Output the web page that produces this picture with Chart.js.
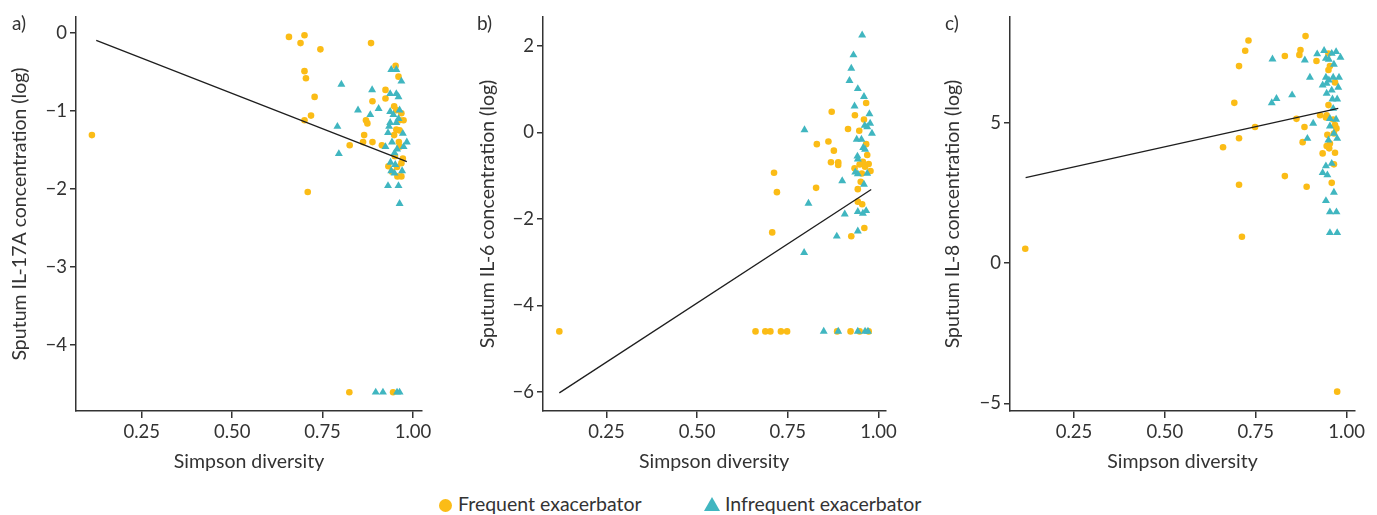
<!DOCTYPE html>
<html>
<head>
<meta charset="utf-8">
<script src="https://cdn.jsdelivr.net/npm/chart.js@4.4.1/dist/chart.umd.min.js"></script>
<style>
  body { margin: 0; background: #fff; font-family: Lato, "Noto Sans", sans-serif; color: #333; }
  #page { position: relative; width: 1377px; height: 515px; overflow: hidden; }
  .panel { position: absolute; top: 0; width: 440px; height: 480px; }
  .tag { position: absolute; top: 11px; font-size: 19px; color: #333; }
  .legend { position: absolute; top: 492px; font-size: 19.5px; color: #333; white-space: nowrap; }
  .dot { position: absolute; width: 13px; height: 13px; border-radius: 50%; background: #FBBC16; }
  .tri { position: absolute; width: 0; height: 0; border-left: 8px solid transparent; border-right: 8px solid transparent; border-bottom: 14px solid #40B6C0; }
</style>
</head>
<body>
<div id="page">
  <div class="panel" style="left:0px"><canvas id="chartA"></canvas></div>
  <div class="panel" style="left:460px"><canvas id="chartB"></canvas></div>
  <div class="panel" style="left:930px"><canvas id="chartC"></canvas></div>
  <div class="tag" style="left:12px">a)</div>
  <div class="tag" style="left:477px">b)</div>
  <div class="tag" style="left:945px">c)</div>
  <div class="dot" style="left:439px; top:499px"></div>
  <div class="legend" style="left:458px">Frequent exacerbator</div>
  <div class="tri" style="left:704px; top:497px"></div>
  <div class="legend" style="left:725px">Infrequent exacerbator</div>
</div>
<script>
// Colours
const frequentColor = '#FBBC16';
const infrequentColor = '#40B6C0';
const axisColor = '#333333';

// Shared x axis
const xTicks = [0.25, 0.5, 0.75, 1.0];
const xTickLabels = ['0.25', '0.50', '0.75', '1.00'];

// a) IL-17A
const aYTicks = [0, -1, -2, -3, -4];
const aYTickLabels = ['0', '\u22121', '\u22122', '\u22123', '\u22124'];
const aFrequent = [
  [0.112, -1.31], [0.657, -0.05], [0.700, -0.03], [0.689, -0.13], [0.744, -0.21],
  [0.700, -0.49], [0.704, -0.58], [0.728, -0.82], [0.718, -1.06], [0.700, -1.12],
  [0.709, -2.04], [0.884, -0.13], [0.825, -1.44], [0.824, -4.61], [0.865, -1.31],
  [0.870, -1.12], [0.874, -1.16], [0.862, -1.40], [0.888, -0.875], [0.888, -1.40],
  [0.924, -0.73], [0.924, -0.84], [0.914, -1.44], [0.932, -1.71], [0.945, -4.61],
  [0.952, -0.42], [0.960, -0.56], [0.948, -0.94], [0.954, -0.99], [0.963, -1.12],
  [0.974, -1.12], [0.968, -1.03], [0.954, -1.24], [0.963, -1.25], [0.948, -1.31],
  [0.961, -1.40], [0.963, -1.46], [0.972, -1.61], [0.968, -1.67], [0.956, -1.72],
  [0.957, -1.84], [0.968, -1.84], [0.950, -1.58], [0.942, -1.78]
];
const aInfrequent = [
  [0.802, -0.66], [0.791, -1.20], [0.795, -1.55], [0.848, -0.99], [0.887, -0.73],
  [0.882, -1.05], [0.905, -0.97], [0.897, -4.61], [0.917, -4.61], [0.924, -1.46],
  [0.931, -1.96], [0.940, -0.47], [0.954, -0.47], [0.968, -0.62], [0.937, -0.78],
  [0.954, -0.78], [0.960, -0.82], [0.937, -1.01], [0.963, -0.99], [0.946, -1.05],
  [0.937, -1.15], [0.954, -1.15], [0.960, -1.10], [0.934, -1.20], [0.931, -1.28],
  [0.942, -1.40], [0.972, -1.29], [0.983, -1.40], [0.974, -1.46], [0.956, -1.49],
  [0.949, -1.54], [0.938, -1.66], [0.951, -1.69], [0.940, -1.77], [0.970, -1.77],
  [0.949, -1.80], [0.960, -1.96], [0.963, -2.19], [0.956, -4.61], [0.963, -4.61]
];
const aFitLine = [[0.124, -0.094], [0.983, -1.65]];

// b) IL-6
const bYTicks = [2, 0, -2, -4, -6];
const bYTickLabels = ['2', '0', '\u22122', '\u22124', '\u22126'];
const bFrequent = [
  [0.120, -4.60], [0.661, -4.60], [0.688, -4.60], [0.702, -4.60], [0.731, -4.60],
  [0.748, -4.60], [0.886, -4.60], [0.923, -4.60], [0.948, -4.60], [0.973, -4.60],
  [0.712, -0.93], [0.720, -1.38], [0.707, -2.31], [0.871, 0.48], [0.830, -0.27],
  [0.862, -0.21], [0.877, -0.42], [0.869, -0.69], [0.889, -0.69], [0.889, -0.75],
  [0.828, -1.28], [0.916, 0.08], [0.935, 0.40], [0.947, 0.04], [0.966, 0.68],
  [0.960, 0.30], [0.966, -0.27], [0.969, -0.52], [0.934, -0.83], [0.948, -0.74],
  [0.957, -0.68], [0.963, -0.79], [0.973, -0.73], [0.978, -0.89], [0.954, -0.95],
  [0.951, -1.14], [0.943, -1.31], [0.943, -1.60], [0.955, -1.66], [0.961, -2.21],
  [0.925, -2.40]
];
const bInfrequent = [
  [0.955, 2.25], [0.931, 1.79], [0.925, 1.48], [0.920, 1.20], [0.943, 1.01],
  [0.960, 0.83], [0.934, 0.61], [0.975, 0.43], [0.977, 0.21], [0.962, 0.16],
  [0.969, 0.13], [0.982, -0.02], [0.796, 0.06], [0.940, -0.16], [0.953, -0.16],
  [0.958, -0.35], [0.963, -0.39], [0.942, -0.55], [0.943, -0.62], [0.936, -0.92],
  [0.943, -0.96], [0.969, -0.95], [0.900, -1.12], [0.960, -1.20], [0.807, -1.64],
  [0.907, -1.89], [0.943, -1.83], [0.957, -1.87], [0.966, -1.81], [0.943, -2.28],
  [0.885, -2.40], [0.795, -2.78], [0.849, -4.60], [0.889, -4.60], [0.943, -4.60],
  [0.963, -4.60], [0.971, -4.60]
];
const bFitLine = [[0.120, -6.02], [0.980, -1.32]];

// c) IL-8
const cYTicks = [5, 0, -5];
const cYTickLabels = ['5', '0', '\u22125'];
const cFrequent = [
  [0.116, 0.51], [0.712, 0.94], [0.704, 2.79], [0.704, 4.45], [0.660, 4.13],
  [0.691, 5.71], [0.704, 7.02], [0.721, 7.57], [0.730, 7.93], [0.748, 4.85],
  [0.830, 7.38], [0.830, 3.10], [0.862, 5.14], [0.870, 7.42], [0.873, 7.59],
  [0.887, 8.09], [0.884, 4.85], [0.879, 4.31], [0.890, 2.72], [0.917, 7.20],
  [0.927, 5.27], [0.945, 5.27], [0.943, 5.19], [0.950, 5.63], [0.950, 6.88],
  [0.954, 7.02], [0.968, 6.44], [0.963, 5.12], [0.968, 4.92], [0.972, 4.80],
  [0.965, 4.62], [0.947, 4.57], [0.954, 4.26], [0.945, 4.17], [0.952, 4.09],
  [0.934, 3.91], [0.968, 3.93], [0.965, 3.52], [0.959, 2.86], [0.974, -4.58],
  [0.950, 7.47]
];
const cInfrequent = [
  [0.796, 7.27], [0.794, 5.71], [0.807, 5.86], [0.850, 5.99], [0.885, 7.23],
  [0.899, 6.62], [0.908, 4.98], [0.892, 4.44], [0.919, 7.45], [0.938, 7.57],
  [0.943, 7.29], [0.951, 7.26], [0.959, 7.47], [0.971, 7.53], [0.965, 7.08],
  [0.983, 7.33], [0.943, 6.62], [0.951, 6.52], [0.963, 6.62], [0.979, 6.62],
  [0.934, 6.34], [0.945, 6.40], [0.959, 6.16], [0.977, 6.26], [0.945, 6.05],
  [0.961, 5.84], [0.974, 5.84], [0.963, 5.51], [0.954, 5.15], [0.971, 5.12],
  [0.954, 4.88], [0.965, 4.62], [0.950, 4.38], [0.974, 4.44], [0.959, 3.55],
  [0.943, 3.46], [0.934, 3.22], [0.947, 3.14], [0.965, 2.52], [0.943, 2.22],
  [0.954, 1.82], [0.972, 1.82], [0.954, 1.08], [0.974, 1.08]
];
const cFitLine = [[0.117, 3.05], [0.977, 5.51]];

const toPoints = pairs => pairs.map(p => ({ x: p[0], y: p[1] }));

function makePanel(canvasId, cfg) {
    const ctx = document.getElementById(canvasId).getContext('2d');
    return new Chart(ctx, {
        type: 'scatter',
        data: {
            datasets: [
                {
                    label: 'Fit',
                    type: 'line',
                    data: toPoints(cfg.fit),
                    borderColor: '#1e1e1e',
                    borderWidth: 1.3,
                    pointRadius: 0,
                    fill: false,
                    order: 0
                },
                {
                    label: 'Infrequent exacerbator',
                    data: toPoints(cfg.infrequent),
                    pointStyle: 'triangle',
                    pointRadius: 4.6,
                    backgroundColor: infrequentColor,
                    borderWidth: 0,
                    order: 1
                },
                {
                    label: 'Frequent exacerbator',
                    data: toPoints(cfg.frequent),
                    pointStyle: 'circle',
                    pointRadius: 3.3,
                    backgroundColor: frequentColor,
                    borderWidth: 0,
                    order: 2
                }
            ]
        },
        options: {
            responsive: true,
            maintainAspectRatio: false,
            animation: false,
            layout: {
                padding: { top: 17, right: cfg.padRight, bottom: 0, left: 0 }
            },
            plugins: {
                legend: { display: false },
                tooltip: { enabled: false }
            },
            scales: {
                x: {
                    type: 'linear',
                    min: cfg.xMin,
                    max: cfg.xMax,
                    afterBuildTicks: scale => { scale.ticks = xTicks.map(v => ({ value: v })); },
                    afterFit: scale => { scale.height = 69; },
                    ticks: {
                        color: axisColor,
                        font: { size: 18.5, family: 'Lato' },
                        padding: 3,
                        maxRotation: 0,
                        callback: (value, index) => xTickLabels[index]
                    },
                    grid: { drawOnChartArea: false, drawTicks: true, tickLength: 7, color: axisColor, lineWidth: 1.5 },
                    border: { display: true, color: axisColor, width: 1.5 },
                    title: {
                        display: true,
                        text: 'Simpson diversity',
                        color: axisColor,
                        font: { size: 19.5, family: 'Lato' },
                        padding: { top: 0, bottom: 7 }
                    }
                },
                y: {
                    type: 'linear',
                    min: cfg.yMin,
                    max: cfg.yMax,
                    afterBuildTicks: scale => { scale.ticks = cfg.yTicks.map(v => ({ value: v })); },
                    afterFit: scale => { scale.width = cfg.yWidth; },
                    ticks: {
                        color: axisColor,
                        font: { size: 18.5, family: 'Lato' },
                        padding: 3,
                        callback: (value, index) => cfg.yTickLabels[index]
                    },
                    grid: { drawOnChartArea: false, drawTicks: true, tickLength: 6, color: axisColor, lineWidth: 1.5 },
                    border: { display: true, color: axisColor, width: 1.5 },
                    title: {
                        display: true,
                        text: cfg.yTitle,
                        color: axisColor,
                        font: { size: 19.5, family: 'Lato' },
                        padding: { top: cfg.yTitlePad, bottom: 0 }
                    }
                }
            }
        }
    });
}

makePanel('chartA', {
    frequent: aFrequent, infrequent: aInfrequent, fit: aFitLine,
    yTicks: aYTicks, yTickLabels: aYTickLabels,
    yTitle: 'Sputum IL-17A concentration (log)',
    xMin: 0.068, xMax: 1.025, yMin: -4.85, yMax: 0.205,
    yWidth: 76, padRight: 18, yTitlePad: 8
});

makePanel('chartB', {
    frequent: bFrequent, infrequent: bInfrequent, fit: bFitLine,
    yTicks: bYTicks, yTickLabels: bYTickLabels,
    yTitle: 'Sputum IL-6 concentration (log)',
    xMin: 0.075, xMax: 1.019, yMin: -6.44, yMax: 2.67,
    yWidth: 83, padRight: 12, yTitlePad: 16
});

makePanel('chartC', {
    frequent: cFrequent, infrequent: cInfrequent, fit: cFitLine,
    yTicks: cYTicks, yTickLabels: cYTickLabels,
    yTitle: 'Sputum IL-8 concentration (log)',
    xMin: 0.074, xMax: 1.023, yMin: -5.27, yMax: 8.77,
    yWidth: 80, padRight: 15, yTitlePad: 11
});
</script>
</body>
</html>
